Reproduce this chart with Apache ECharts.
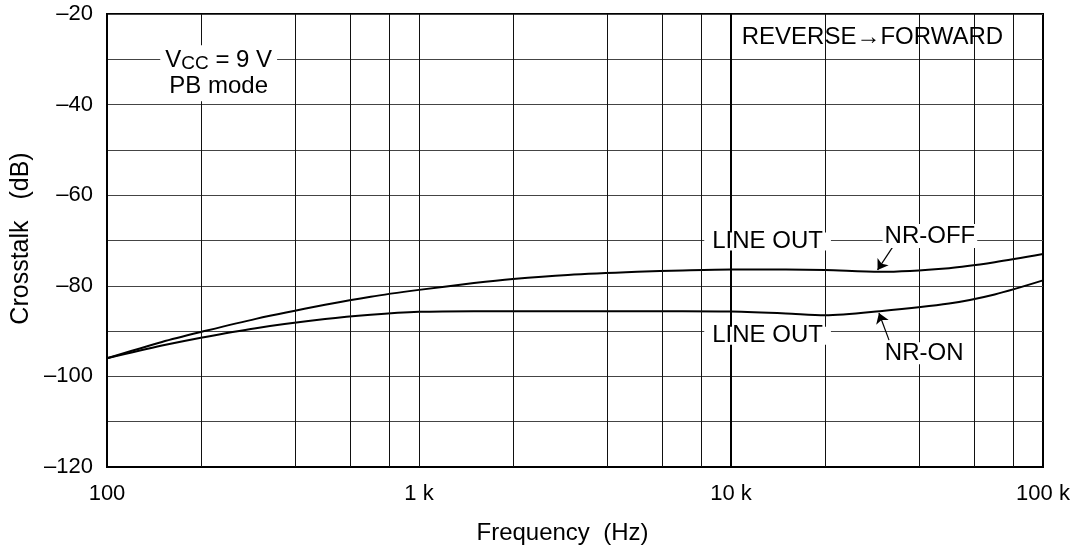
<!DOCTYPE html>
<html>
<head>
<meta charset="utf-8">
<script src="https://cdn.jsdelivr.net/npm/echarts@6/dist/echarts.min.js"></script>
<style>
html,body{margin:0;padding:0;background:#fff;}
#c{width:1090px;height:550px;}
</style>
</head>
<body>
<div id="c"></div>
<script>
// ---- data ----
const freq  = [100, 150, 200, 300, 500, 700, 1000, 1500, 2000, 3000, 5000, 7000, 10000, 15000, 20000, 30000, 50000, 70000, 100000];
const nrOff = [-96, -92.4, -90.2, -87.3, -84.2, -82.4, -80.9, -79.4, -78.5, -77.6, -76.9, -76.6, -76.4, -76.4, -76.5, -76.9, -76.1, -74.8, -73.0];
const nrOn  = [-96, -93.2, -91.45, -89.35, -87.35, -86.4, -85.75, -85.6, -85.6, -85.6, -85.6, -85.6, -85.7, -86.1, -86.5, -85.6, -83.9, -81.9, -78.8];
const xTickValues = [100, 1000, 10000, 100000];
const xTickLabels = ['100', '1 k', '10 k', '100 k'];
const xMinorGrid = [200, 400, 600, 800, 1000, 2000, 4000, 6000, 8000, 20000, 40000, 60000, 80000];
const xHeavyGrid = [10000];

const FONT = '"Liberation Sans", Arial, Helvetica, sans-serif';
const chart = echarts.init(document.getElementById('c'), null, {renderer: 'canvas'});

function pair(a, b) { return a.map((v, i) => [v, b[i]]); }

const annStyle = {fontFamily: FONT, fontSize: 24, color: '#000'};

const option = {
  animation: false,
  backgroundColor: '#fff',
  grid: {left: 107, right: 47, top: 14, bottom: 83, show: true, borderColor: '#000', borderWidth: 2, backgroundColor: 'transparent'},
  xAxis: {
    type: 'log', logBase: 10, min: 100, max: 100000,
    name: 'Frequency  (Hz)', nameLocation: 'middle', nameGap: 54,
    nameTextStyle: {fontFamily: FONT, fontSize: 24, color: '#000', padding: [0, 25, 0, 0]},
    axisLine: {show: true, lineStyle: {color: '#000', width: 2}},
    axisTick: {show: false},
    splitLine: {show: false},
    minorTick: {show: false}, minorSplitLine: {show: false},
    axisLabel: {
      fontFamily: FONT, fontSize: 22, color: '#000', margin: 16,
      formatter: function (v) {
        const i = xTickValues.findIndex(t => Math.abs(t - v) / t < 1e-6);
        return i >= 0 ? xTickLabels[i] : '';
      }
    }
  },
  yAxis: {
    type: 'value', min: -120, max: -20, interval: 10,
    name: 'Crosstalk   (dB)', nameLocation: 'middle', nameGap: 72, nameRotate: 90,
    nameTextStyle: {fontFamily: FONT, fontSize: 25, color: '#000', padding: [0, 0, 0, 4]},
    axisLine: {show: true, lineStyle: {color: '#000', width: 2}},
    axisTick: {show: false},
    splitLine: {show: true, lineStyle: {color: '#444', width: 1}},
    axisLabel: {
      fontFamily: FONT, fontSize: 22, color: '#000', margin: 14,
      formatter: function (v) { return (v % 20 === 0) ? '\u2013' + Math.abs(v) : ''; }
    }
  },
  series: [
    {
      name: 'vgrid', type: 'line', data: [], z: 1, silent: true,
      markLine: {
        silent: true, symbol: ['none', 'none'], animation: false,
        label: {show: false},
        data: xMinorGrid.map(v => ({xAxis: v, lineStyle: {color: '#111', width: 1, type: 'solid'}}))
          .concat(xHeavyGrid.map(v => ({xAxis: v, lineStyle: {color: '#000', width: 2, type: 'solid'}})))
      }
    },
    {
      name: 'NR-OFF', type: 'line', data: pair(freq, nrOff), z: 3,
      showSymbol: false, symbol: 'none', smooth: 0.3,
      lineStyle: {color: '#000', width: 2}
    },
    {
      name: 'NR-ON', type: 'line', data: pair(freq, nrOn), z: 3,
      showSymbol: false, symbol: 'none', smooth: 0.3,
      lineStyle: {color: '#000', width: 2}
    },
    {
      name: 'annotations', type: 'line', data: [], z: 4, silent: true,
      markPoint: {
        silent: true, symbol: 'circle', symbolSize: 0, animation: false,
        data: [
          {coord: [228, -33.1], label: {show: true, position: 'inside', backgroundColor: '#fff', padding: [2, 5],
            formatter: '{v|V}{s|CC}{v| = 9 V}\n{v|PB mode}',
            rich: {
              v: {fontFamily: FONT, fontSize: 24, lineHeight: 26, color: '#000'},
              s: {fontFamily: FONT, fontSize: 19, lineHeight: 12, verticalAlign: 'bottom', color: '#000'}
            }}},
          {coord: [28400, -25.2], label: Object.assign({show: true, position: 'inside', formatter: 'REVERSE\u2192FORWARD'}, annStyle)},
          {coord: [13100, -70.2], label: Object.assign({show: true, position: 'inside', formatter: 'LINE OUT', backgroundColor: '#fff', lineHeight: 18, padding: [0, 8]}, annStyle)},
          {coord: [13100, -91.0], label: Object.assign({show: true, position: 'inside', formatter: 'LINE OUT', backgroundColor: '#fff', lineHeight: 18, padding: [0, 8]}, annStyle)},
          {coord: [43400, -69.0], label: Object.assign({show: true, position: 'inside', formatter: 'NR-OFF', backgroundColor: '#fff', lineHeight: 24, padding: [0, 2]}, annStyle)},
          {coord: [41600, -94.9], label: Object.assign({show: true, position: 'inside', formatter: 'NR-ON', backgroundColor: '#fff', lineHeight: 22, padding: [0, 2]}, annStyle)}
        ]
      },
      markLine: {
        silent: true, animation: false, symbolSize: 10,
        label: {show: false},
        lineStyle: {color: '#000', width: 1.2, type: 'solid'},
        data: [
          [{coord: [33000, -71.4], symbol: 'none'}, {coord: [29500, -76.5], symbol: 'arrow'}],
          [{coord: [32100, -92.0], symbol: 'none'}, {coord: [29800, -86.0], symbol: 'arrow'}]
        ]
      }
    }
  ]
};
chart.setOption(option);
</script>
</body>
</html>
